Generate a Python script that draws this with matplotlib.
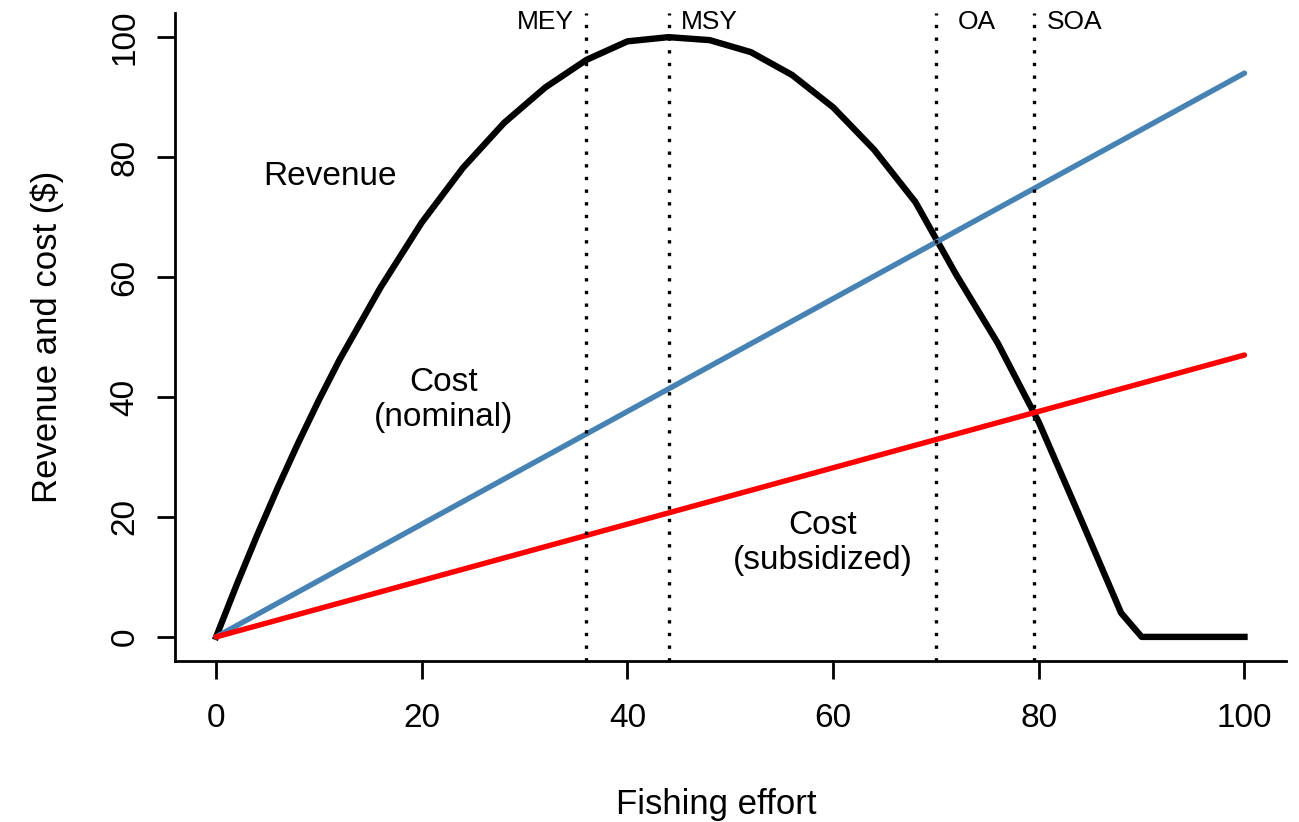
import matplotlib.pyplot as plt

plt.rcParams['font.family'] = ['Liberation Sans', 'DejaVu Sans']

# Fishing effort and revenue
effort = [0, 2, 4, 6, 8, 10, 12, 16, 20, 24, 28, 32, 36, 40, 44, 48, 52, 56, 60,
          64, 68, 72, 76, 80, 84, 88, 90, 100]
revenue = [0, 8.7, 17.0, 24.9, 32.4, 39.5, 46.2, 58.3, 69.1, 78.2, 85.7, 91.6,
           96.2, 99.3, 100, 99.5, 97.5, 93.7, 88.3, 81.2, 72.5, 60.3, 49.0, 35.8,
           20.0, 4.0, 0, 0]

# Cost lines (linear)
cost_x = [0, 100]
cost_nominal = [0, 94]
cost_subsidized = [0, 47]

# Reference points
ref_x = [36, 44, 70, 79.5]
ref_labels = ['MEY', 'MSY', 'OA', 'SOA']
ref_offset = [-4, 4, 4, 4]

fig = plt.figure(figsize=(12.99, 8.22), dpi=100)
ax = fig.add_axes([0.1347, 0.196, 0.855, 0.788])

ax.plot(effort, revenue, color='black', lw=4.6)
ax.plot(cost_x, cost_nominal, color='#4682B4', lw=3.9, solid_capstyle='round')
ax.plot(cost_x, cost_subsidized, color='#FF0000', lw=3.9, solid_capstyle='round')

for x, lab, off in zip(ref_x, ref_labels, ref_offset):
    ax.axvline(x, color='black', lw=2.4, linestyle=(0, (1, 2.8)))
    ax.text(x + off, 102.5, lab, ha='center', va='center', fontsize=19)

ax.text(11.1, 76.7, 'Revenue', ha='center', va='center', fontsize=24)
ax.text(22.1, 39.5, 'Cost\n(nominal)', ha='center', va='center', fontsize=24,
        linespacing=1.15)
ax.text(59, 15.7, 'Cost\n(subsidized)', ha='center', va='center', fontsize=24,
        linespacing=1.15)

ax.set_xlim(-4, 104)
ax.set_ylim(-4, 104)
ax.set_xticks([0, 20, 40, 60, 80, 100])
ax.set_yticks([0, 20, 40, 60, 80, 100])
for s in ['top', 'right']:
    ax.spines[s].set_visible(False)
for s in ['left', 'bottom']:
    ax.spines[s].set_linewidth(2)
ax.tick_params(axis='both', length=13, width=2, labelsize=24)
ax.tick_params(axis='x', pad=17)
ax.tick_params(axis='y', pad=12)
for t in ax.get_yticklabels():
    t.set_rotation(90)
    t.set_va('center')

ax.set_xlabel('Fishing effort', fontsize=25)
ax.set_ylabel('Revenue and cost (\\$)', fontsize=25)
ax.xaxis.set_label_coords(0.487, -0.196)
ax.yaxis.set_label_coords(-0.10, 0.5)

fig.savefig('out.png', dpi=100)
